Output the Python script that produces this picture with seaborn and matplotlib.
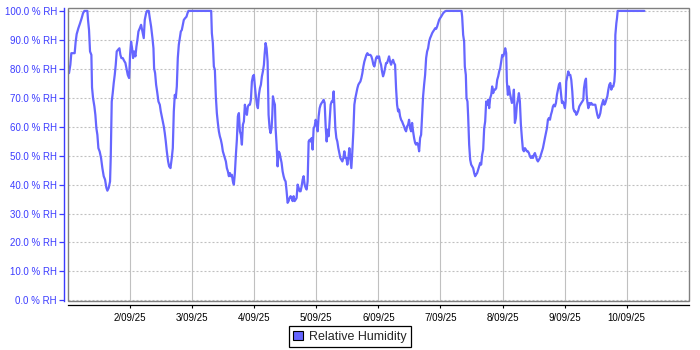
import matplotlib
matplotlib.use("Agg")
import matplotlib.pyplot as plt
import matplotlib.dates as mdates
from matplotlib.patches import Patch, Rectangle
from matplotlib.ticker import FuncFormatter, FixedLocator
import numpy as np
import pandas as pd
import seaborn as sns

# ---------------- data (hours after 1 Sep 2025 00:00, % RH) ----------------
start_date = "2025-09-01 00:00"

hours = [
    0.40, 0.92, 1.30, 2.59, 2.98, 3.37, 4.01, 4.66, 5.30, 5.82, 6.34, 7.50, 7.75, 8.14, 8.53, 9.05,
    9.30, 9.69, 10.21, 10.59, 10.98, 11.37, 11.76, 12.27, 12.79, 13.30, 13.82, 14.34, 14.85, 15.24,
    15.76, 16.27, 16.53, 16.92, 17.30, 17.69, 18.08, 18.47, 18.85, 19.37, 19.89, 20.27, 20.66, 21.18,
    21.69, 22.21, 22.72, 23.11, 23.63, 24.01, 24.40, 24.79, 25.17, 25.56, 26.08, 26.47, 26.85, 27.24,
    27.76, 28.27, 28.79, 29.30, 29.69, 30.21, 30.59, 31.24, 31.63, 32.14, 32.66, 33.05, 33.30, 33.69,
    34.08, 34.46, 34.98, 35.50, 35.88, 36.27, 36.66, 37.05, 37.43, 37.82, 38.21, 38.72, 39.11, 39.63,
    40.14, 40.53, 40.92, 41.30, 41.69, 42.08, 42.46, 42.85, 43.24, 43.63, 44.01, 44.40, 44.79, 45.30,
    45.82, 46.21, 46.59, 55.37, 55.63, 56.01, 56.40, 56.79, 57.17, 57.56, 57.95, 58.34, 58.72, 59.11,
    59.50, 59.88, 60.27, 60.66, 61.05, 61.43, 61.82, 62.21, 62.59, 62.98, 63.37, 63.76, 64.14, 64.53,
    64.92, 65.30, 65.69, 66.08, 66.47, 66.85, 67.24, 67.63, 68.01, 68.40, 68.79, 69.18, 69.56, 69.95,
    70.34, 70.72, 71.11, 71.50, 71.88, 72.27, 72.66, 73.05, 73.43, 73.82, 74.21, 74.59, 74.98, 75.37,
    75.76, 76.01, 76.40, 76.79, 77.18, 77.56, 77.95, 78.34, 78.72, 79.00,
    79.24, 79.63, 80.01, 80.27, 80.66, 81.05, 81.43, 81.82, 82.21, 82.59, 82.98, 83.37, 83.76, 84.14,
    84.53, 84.92, 85.30, 85.69, 86.08, 86.47, 86.85, 87.24, 87.63, 88.01, 88.40, 88.79, 89.18, 89.56,
    89.95, 90.34, 90.72, 91.11, 91.50, 91.89, 92.27, 92.66, 93.05, 93.43, 93.82, 94.21, 94.59, 94.98,
    95.37, 95.76, 96.14, 96.53, 96.92, 97.30, 97.69, 98.08, 98.47, 98.85, 99.24, 99.63, 100.01, 100.40,
    100.79, 101.18, 101.56, 101.95, 102.34, 102.72, 102.98, 103.37, 103.76, 104.14, 104.53, 104.92,
    105.30, 105.69, 106.08, 106.47, 106.85, 107.24, 107.63, 108.01, 108.40, 108.79, 109.18, 109.56,
    109.95, 110.34, 110.72, 111.11, 111.50, 111.89, 112.27, 112.66, 113.05, 113.43, 113.82, 114.21,
    114.59, 114.98, 115.37, 115.76, 116.14, 116.53, 116.92, 117.30, 117.69, 118.08, 118.47, 118.72,
    119.11, 119.50, 119.88, 120.27, 120.66, 121.05, 121.43, 121.82, 122.21, 122.59, 122.98, 123.37,
    123.76, 124.14, 124.53, 124.92, 125.30, 125.69, 126.08, 126.47, 126.85, 127.24, 127.63, 128.01,
    128.40, 128.79, 129.18, 129.56, 129.95, 130.34, 130.72, 131.11, 131.50, 131.88, 132.27, 132.66,
    133.05, 133.43, 133.82, 134.21, 134.59, 134.98, 135.37, 135.76, 136.14, 136.53, 136.92, 137.30,
    137.69, 138.08, 138.47, 138.85, 139.24, 139.63, 140.01, 140.40, 140.79, 141.18, 141.56, 141.95,
    142.34, 142.72, 143.11, 143.50, 143.89, 144.27, 144.66, 145.05, 145.69, 146.21, 152.14, 152.40,
    152.79, 153.17, 153.43, 153.82, 154.08, 154.46, 154.72, 155.11, 155.50, 155.89, 156.27, 156.66,
    157.05, 157.43, 157.82, 158.20,
    158.59, 158.98, 159.37, 159.76, 160.14, 160.53, 160.92, 161.30, 161.69, 162.08, 162.47, 162.85,
    163.24, 163.63, 164.01, 164.40, 164.79, 165.18, 165.56, 165.95, 166.34, 166.72, 167.11, 167.50,
    167.88, 168.27, 168.66, 169.05, 169.43, 169.69, 170.08, 170.47, 170.85, 171.24, 171.63, 172.02,
    172.40, 172.79, 173.18, 173.56, 173.95, 174.34, 174.72, 175.11, 175.50, 175.89, 176.27, 176.66,
    177.05, 177.43, 177.82, 178.21, 178.59, 178.98, 179.37, 179.76, 180.14, 180.53, 180.92, 181.30,
    181.69, 182.08, 182.47, 182.85, 183.24, 183.63, 184.01, 184.40, 184.79, 185.18, 185.56, 185.95,
    186.34, 186.72, 187.11, 187.50, 187.88, 188.27, 188.66, 189.05, 189.43, 189.82, 190.21, 190.59,
    190.98, 191.37, 191.76, 192.14, 192.40, 192.66, 193.05, 193.43, 193.82, 194.21, 194.59, 194.98,
    195.37, 195.76, 196.14, 196.53, 196.92, 197.30, 197.69,
    198.08, 198.47, 198.85, 199.24, 199.50, 199.89, 200.27, 200.53, 200.79, 201.18, 201.56, 201.95,
    202.34, 202.72, 203.11, 203.50, 203.89, 204.27, 204.66, 205.05, 205.43, 205.82, 206.21, 206.59,
    206.98, 207.37, 207.76, 208.14, 208.53, 208.92, 209.30, 209.69, 210.08, 210.47, 210.85, 211.24,
    211.50, 211.63, 212.01, 212.27, 212.53, 222.85,
]

rh = [
    78.5, 81.4, 85.4, 85.4, 89.4, 92.0, 94.0, 95.7, 97.5, 99.2, 100, 100, 96.9, 93.4, 86.0, 84.8,
    73.6, 69.9, 67.0, 64.1, 59.5, 57.2, 52.6, 51.4, 49.2, 45.7, 42.9, 41.7, 38.9, 37.9,
    38.9, 41.1, 49.2, 68.7, 71.6, 75.1, 77.9, 81.4, 86.0, 86.6, 87.1, 84.8, 83.7, 83.7,
    82.8, 82.0, 79.7, 77.9, 76.8, 84.8, 89.4, 87.1, 83.7, 86.0, 84.3, 87.7, 90.0, 92.9,
    94.0, 95.2, 92.9, 90.6, 96.9, 99.2, 100, 100, 97.5, 94.6, 90.6, 87.1, 80.2, 78.5,
    74.5, 72.2, 68.7, 67.6, 65.3, 63.6, 61.8, 60.1, 57.8, 54.9, 51.5, 48.0, 46.3, 45.7,
    49.2, 52.6, 65.3, 71.0, 69.9, 73.9, 83.7, 88.3, 90.6, 92.9, 93.4, 95.2, 96.9, 97.5,
    98.0, 99.2, 100, 100, 92.3, 88.9, 80.8, 79.7, 70.5, 64.7, 61.3, 58.4, 56.7, 55.5,
    53.8, 51.5, 50.3, 49.2, 48.0, 45.7, 44.6, 42.9, 44.0, 42.9, 43.4, 41.1, 40.0, 44.0,
    50.3, 55.5, 63.6, 64.7, 58.4, 57.2, 53.8, 60.7, 61.8, 67.6, 65.3, 64.1, 67.0, 67.6,
    67.6, 69.3, 75.6, 77.4, 77.9, 73.9, 70.5, 67.6, 66.4, 71.0, 73.3, 74.5, 77.4, 79.1,
    81.4, 84.8, 88.9, 87.1, 82.5, 64.1, 59.5, 57.8, 59.5, 64.1,
    70.5, 68.7, 67.6, 59.5, 53.8, 46.3, 51.4, 50.9, 49.2, 47.5, 44.6, 42.9, 41.7, 41.1,
    37.7, 33.7, 34.3, 35.4, 36.0, 35.4, 34.3, 36.0, 34.3, 34.8, 35.4, 40.0, 38.9, 37.7,
    37.7, 39.4, 41.7, 42.9, 40.0, 38.9, 38.3, 41.1, 54.9, 55.5, 54.9, 56.1, 52.1, 59.5,
    60.1, 62.4, 61.3, 58.4, 63.6, 66.4, 67.6, 68.2, 68.7, 69.3, 68.2, 60.1, 54.9, 59.0,
    56.7, 62.4, 67.6, 68.7, 68.7, 72.2, 67.6, 59.5, 56.1, 54.9, 52.6, 50.9,
    49.2, 48.6, 48.0, 49.2, 51.5, 49.2, 49.2, 46.9, 49.2, 52.6, 49.2, 45.7,
    51.5, 58.4, 67.6, 69.9, 71.6, 73.3, 74.5, 75.1, 75.6, 76.8, 78.5, 80.8,
    82.5, 83.7, 84.8, 85.4, 84.8, 84.8, 84.8, 84.3, 83.1, 81.4, 80.8, 82.0,
    83.7, 84.3, 83.7, 84.3, 82.5, 81.4, 79.1, 77.4, 78.5, 80.2, 82.0, 82.0,
    83.1, 84.3, 82.5, 81.4, 82.5, 83.1, 82.0, 81.4, 73.3, 67.6, 65.3, 65.9,
    63.6, 62.4, 61.8, 60.9, 60.1, 59.0, 58.4, 60.1, 60.7, 62.4, 59.5, 58.4,
    61.3, 58.4, 56.1, 54.4, 53.8, 54.4, 53.8, 51.5, 56.1, 57.2, 64.1, 70.5,
    74.5, 77.9, 83.7, 86.0, 87.1, 89.4, 90.6, 91.4, 92.3, 92.9, 93.4, 94.0,
    93.8, 94.6, 95.7, 96.9, 97.5, 98.0, 98.6, 99.2, 99.8, 100, 100, 98.0,
    91.7, 89.4, 80.8, 77.9, 69.9, 68.7, 63.6, 53.8, 48.6, 46.9, 46.3, 45.7,
    44.0, 42.9, 43.5, 44.0,
    45.2, 46.3, 47.5, 46.9, 50.3, 52.1, 59.5, 61.8, 68.7, 67.6, 69.3, 66.4,
    69.9, 71.0, 73.9, 71.6, 72.8, 72.8, 73.3, 76.2, 77.4, 79.1, 80.2, 82.5,
    84.8, 84.3, 85.4, 87.1, 85.4, 75.6, 71.0, 73.9, 71.6, 69.9, 68.2, 68.7,
    72.8, 61.3, 63.0, 67.6, 69.3, 71.6, 68.7, 60.7, 56.1, 52.1, 51.5, 52.6,
    52.1, 51.5, 51.5, 50.9, 49.8, 49.2, 49.8, 49.2, 50.3, 50.9, 49.8, 48.6,
    48.0, 48.6, 49.2, 50.3, 51.5, 52.6, 54.4, 56.1, 57.8, 59.5, 62.4, 63.0,
    62.4, 64.1, 65.3, 67.0, 67.6, 67.0, 68.2, 71.0, 72.8, 74.5, 75.1, 71.6,
    68.2, 68.7, 67.6, 66.4, 68.7, 75.6, 77.4, 79.1, 77.9, 77.9, 76.2, 72.2,
    66.4, 65.3, 65.3, 64.1, 64.7, 65.6, 67.0,
    67.6, 68.2, 68.7, 69.3, 73.3, 75.6, 76.6, 71.0, 68.7, 66.4, 68.2, 67.6,
    68.2, 67.6, 67.6, 67.6, 67.6, 65.9, 64.1, 63.0, 63.6, 64.7, 67.0, 68.2,
    69.3, 67.6, 68.2, 69.3, 70.5, 72.8, 74.5, 75.1, 72.8, 73.9, 73.9, 75.6,
    79.1, 91.7, 95.7, 97.5, 100, 100,
]

series_label = "Relative Humidity"
x_tick_days = [2, 3, 4, 5, 6, 7, 8, 9, 10]
y_ticks = [0, 10, 20, 30, 40, 50, 60, 70, 80, 90, 100]

# ---------------- styling ----------------
sns.set_style("white")
plt.rcParams["font.family"] = ["Liberation Sans", "DejaVu Sans"]
plt.rcParams["lines.scale_dashes"] = False

LINE = "#6666ff"
BLUE = "#3c3cff"

t0 = pd.Timestamp(start_date)
df = pd.DataFrame({
    "time": t0 + pd.to_timedelta(hours, unit="h"),
    "rh": rh,
})

fig = plt.figure(figsize=(7, 3.5), dpi=100)
ax = fig.add_axes([0.0971, 0.1409, 0.8868, 0.8362])

sns.lineplot(data=df, x="time", y="rh", ax=ax, color=LINE, linewidth=1.6,
             estimator=None, sort=False, legend=False, zorder=3)

ax.set_xlim(t0, t0 + pd.Timedelta(days=10))
ax.set_ylim(-0.1, 101)
ax.set_xlabel("")
ax.set_ylabel("")

# ticks
xt = [mdates.date2num(t0 + pd.Timedelta(days=d - 1)) for d in x_tick_days]
ax.xaxis.set_major_locator(FixedLocator(xt))
ax.xaxis.set_major_formatter(FuncFormatter(
    lambda v, p: (lambda d: f"{d.day}/{d.month:02d}/{d.year % 100:02d}")(mdates.num2date(v))))
ax.yaxis.set_major_locator(FixedLocator(y_ticks))
ax.yaxis.set_major_formatter(FuncFormatter(lambda v, p: f"{v:.1f} % RH"))

ax.tick_params(axis="y", direction="out", length=3.6, width=0.9, color=BLUE,
               labelcolor=BLUE, labelsize=7, pad=1.2, left=True)
ax.tick_params(axis="x", direction="out", length=2.0, width=0.8, color="black",
               labelcolor="black", labelsize=7, pad=3.5, bottom=True)

# grid
ax.yaxis.grid(True, color="#c0c0c0", linewidth=0.8, linestyle=(0, (1.44, 1.44)), zorder=0)
ax.xaxis.grid(True, color="#c0c0c0", linewidth=0.8, linestyle="-", zorder=0)
ax.set_axisbelow(True)

# spines
for s in ["top", "right"]:
    ax.spines[s].set_visible(False)
ax.spines["left"].set_position(("outward", 3.1))
ax.spines["left"].set_color(BLUE)
ax.spines["left"].set_linewidth(1.0)
ax.spines["bottom"].set_position(("outward", 3.3))
ax.spines["bottom"].set_color("black")
ax.spines["bottom"].set_linewidth(0.9)

ax.add_patch(Rectangle((0, 0), 1, 1, transform=ax.transAxes, fill=False,
                       edgecolor="#808080", linewidth=1.0, clip_on=False, zorder=4))

# legend
leg = fig.legend(handles=[Patch(facecolor=LINE, edgecolor="black", linewidth=0.8,
                                label=series_label)],
                 loc="lower center", bbox_to_anchor=(0.5, 0.008), frameon=True,
                 fancybox=False, edgecolor="black", fontsize=9, handlelength=0.8,
                 handleheight=0.8, handletextpad=0.5, borderpad=0.35, framealpha=1,
                 borderaxespad=0)
leg.get_frame().set_linewidth(0.9)

fig.savefig("out.png", dpi=100, facecolor="white")
